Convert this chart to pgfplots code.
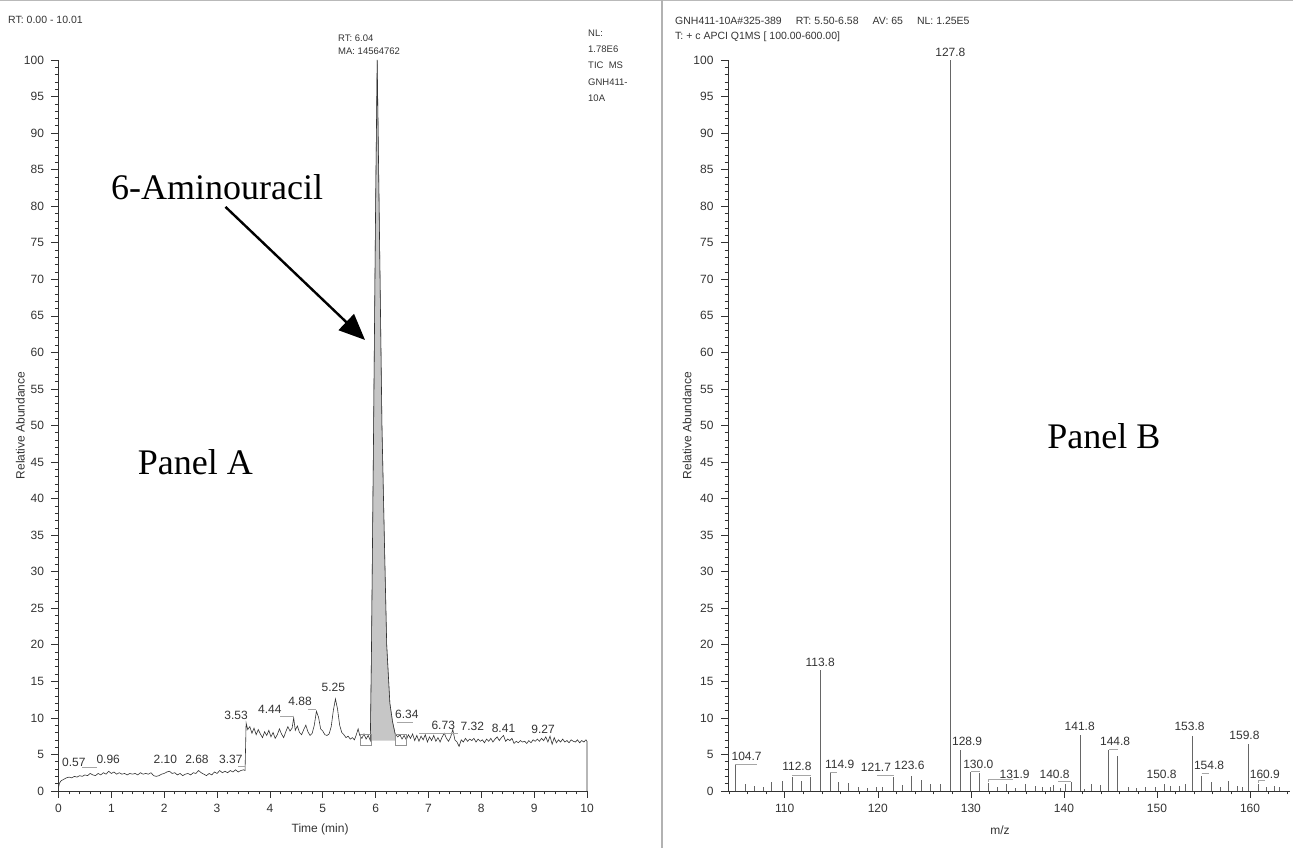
\documentclass[border=0pt]{standalone}
\usepackage{pgfplots}
\pgfplotsset{compat=1.18}
\usepackage{fontspec}
\setmainfont{Liberation Sans}
\newfontfamily\seriffont{Liberation Serif}
\usetikzlibrary{arrows.meta}
\newcommand{\sm}{\fontsize{12bp}{14bp}\selectfont}
\newcommand{\pk}{\fontsize{12bp}{14bp}\selectfont}
\newcommand{\hd}{\fontsize{9.5bp}{11bp}\selectfont}
\newcommand{\hdb}{\fontsize{10.5bp}{12bp}\selectfont}
\definecolor{ink}{HTML}{333333}

\pgfplotsset{
  msstyle/.style={
    scale only axis, clip=false,
    axis lines=left,
    axis line style={-, line width=0.7bp, ink},
    tick align=outside,
    major tick length=7bp, minor tick length=3.5bp,
    every tick/.style={line width=0.6bp, ink},
    ticklabel style={font=\sm, ink},
    yticklabel style={xshift=-4bp},
    xticklabel style={yshift=-3bp},
    /pgf/number format/assume math mode=true,
    label style={font=\sm, ink},
    ymin=0, ymax=100,
    ytick={0,5,...,100}, minor y tick num=4,
  }
}

\begin{document}
\begin{tikzpicture}[x=1bp,y=1bp]
\useasboundingbox (0,0) rectangle (1293,848);
\draw[gray!55, line width=1.2bp] (0,847.4) -- (1293,847.4);
\draw[gray!60, line width=1.2bp] (662,0) -- (662,848);

% header texts panel A
\node[anchor=west, font=\hdb, ink, inner sep=0] at (8,828) {RT: 0.00 - 10.01};
\node[anchor=west, font=\hd, ink, inner sep=0] at (338,810) {RT: 6.04};
\node[anchor=west, font=\hd, ink, inner sep=0] at (338,797) {MA: 14564762};
\node[anchor=west, font=\hd, ink, inner sep=0] at (588,815) {NL:};
\node[anchor=west, font=\hd, ink, inner sep=0] at (588,799) {1.78E6};
\node[anchor=west, font=\hd, ink, inner sep=0] at (588,783) {TIC\ \ MS};
\node[anchor=west, font=\hd, ink, inner sep=0] at (588,766) {GNH411-};
\node[anchor=west, font=\hd, ink, inner sep=0] at (588,750) {10A};
% header texts panel B
\node[anchor=west, font=\hdb, ink, inner sep=0] at (675,827) {GNH411-10A\#325-389\hspace{14bp}RT: 5.50-6.58\hspace{14bp}AV: 65\hspace{14bp}NL: 1.25E5};
\node[anchor=west, font=\hdb, ink, inner sep=0] at (675,811) {T: + c APCI Q1MS [ 100.00-600.00]};

%================ Panel A ================
\begin{axis}[msstyle,
  at={(58.5bp,57bp)}, anchor=south west,
  width=528.5bp, height=731bp,
  xmin=0, xmax=10,
  xtick={0,...,10}, minor x tick num=4,
  xlabel={Time (min)}, ylabel={Relative Abundance},
  xlabel style={at={(axis description cs:0.495,-0.052)}, anchor=center},
  ylabel style={at={(axis description cs:-0.072,0.5)}, anchor=center},
]
% shaded integrated peak
\addplot[fill=gray!45, draw=gray!80, line width=0.5bp] coordinates {
(5.90,6.9) (5.92,18) (5.96,48) (6.00,80) (6.03,100) (6.07,78) (6.12,50)
(6.17,33) (6.21,20) (6.27,12) (6.32,9.5) (6.37,7.8) (6.37,6.9)};
% chromatogram trace
\addplot[ink, line width=0.6bp] coordinates {
(0.00,0.5) (0.02,1.1) (0.05,1.4) (0.10,1.6) (0.15,1.8) (0.20,1.9) (0.25,1.8)
(0.30,2.0) (0.35,1.9) (0.40,2.1) (0.45,2.0) (0.50,2.2) (0.55,2.1) (0.60,2.4)
(0.65,2.2) (0.70,2.1) (0.75,2.4) (0.80,2.2) (0.85,2.5) (0.90,2.3) (0.95,2.7)
(1.00,2.4) (1.05,2.6) (1.10,2.3) (1.15,2.5) (1.20,2.3) (1.25,2.4) (1.30,2.2)
(1.35,2.4) (1.40,2.3) (1.45,2.4) (1.50,2.2) (1.55,2.5) (1.60,2.3) (1.65,2.4)
(1.70,2.3) (1.75,2.5) (1.80,2.1) (1.85,2.0) (1.90,2.1) (1.95,2.3) (2.00,2.4)
(2.05,2.6) (2.10,2.7) (2.15,2.4) (2.20,2.5) (2.25,2.2) (2.30,2.4) (2.35,2.1)
(2.40,2.3) (2.45,2.4) (2.50,2.2) (2.55,2.5) (2.60,2.4) (2.65,2.8) (2.70,2.5)
(2.75,2.3) (2.80,2.1) (2.85,2.4) (2.90,2.2) (2.95,2.6) (3.00,2.4) (3.05,2.8)
(3.10,2.5) (3.15,2.7) (3.20,2.5) (3.25,2.8) (3.30,2.6) (3.35,2.9) (3.40,2.6)
(3.45,2.8) (3.50,2.9) (3.53,2.8) (3.55,9.3) (3.58,8.4) (3.62,8.8) (3.66,7.9)
(3.70,8.6) (3.74,7.7) (3.78,8.4) (3.82,7.8) (3.86,7.3) (3.90,8.1) (3.94,7.6)
(3.98,8.3) (4.02,7.4) (4.06,8.0) (4.10,7.2) (4.14,7.7) (4.18,8.5) (4.22,7.8)
(4.26,7.3) (4.30,8.1) (4.34,8.8) (4.38,8.2) (4.42,8.6) (4.45,10.0) (4.48,8.3)
(4.52,8.9) (4.56,8.0) (4.60,7.7) (4.64,8.4) (4.68,9.0) (4.72,8.1) (4.76,7.6)
(4.80,7.9) (4.84,9.0) (4.88,10.9) (4.92,10.1) (4.96,8.5) (5.00,8.2) (5.04,7.7)
(5.08,7.6) (5.12,7.8) (5.16,8.8) (5.20,11.0) (5.24,12.6) (5.28,11.2) (5.32,9.0)
(5.36,8.0) (5.40,7.7) (5.44,7.3) (5.48,7.5) (5.52,7.1) (5.56,7.3) (5.60,7.0)
(5.63,7.6) (5.67,8.5) (5.70,7.6) (5.74,7.2) (5.78,7.8) (5.82,7.1) (5.86,7.6)
(5.90,6.9) (5.92,18) (5.96,48) (6.00,80) (6.03,100) (6.07,78) (6.12,50)
(6.17,33) (6.21,20) (6.27,12) (6.32,9.5) (6.37,7.8) (6.42,7.4) (6.46,7.7)
(6.50,7.1) (6.54,7.6) (6.58,7.0) (6.62,7.7) (6.66,7.2) (6.70,7.8) (6.74,6.9)
(6.78,7.6) (6.82,6.8) (6.86,7.5) (6.90,7.0) (6.94,7.7) (6.98,6.7) (7.02,7.4)
(7.06,6.9) (7.10,7.6) (7.14,6.8) (7.18,7.3) (7.22,6.7) (7.26,7.4) (7.30,7.9)
(7.34,7.2) (7.38,6.8) (7.42,7.4) (7.46,8.4) (7.50,7.0) (7.54,6.7) (7.58,6.1)
(7.62,7.0) (7.66,6.7) (7.70,7.2) (7.74,6.8) (7.78,7.1) (7.82,6.9) (7.86,7.2)
(7.90,6.7) (7.94,7.1) (7.98,6.8) (8.02,7.0) (8.06,6.6) (8.10,7.1) (8.14,6.8)
(8.18,7.2) (8.22,6.7) (8.26,7.1) (8.30,7.4) (8.34,6.9) (8.38,7.3) (8.42,7.6)
(8.46,6.8) (8.50,7.1) (8.54,6.9) (8.58,7.2) (8.62,6.5) (8.66,6.8) (8.70,6.6)
(8.74,6.9) (8.78,6.7) (8.82,6.8) (8.86,6.5) (8.90,6.9) (8.94,6.6) (8.98,7.0)
(9.02,6.8) (9.06,7.1) (9.10,6.8) (9.14,7.2) (9.18,6.9) (9.22,7.4) (9.26,6.7)
(9.30,7.5) (9.34,6.4) (9.38,7.3) (9.42,6.6) (9.46,7.0) (9.50,6.7) (9.54,7.1)
(9.58,6.7) (9.62,6.9) (9.66,6.6) (9.70,7.0) (9.74,6.8) (9.78,6.7) (9.82,7.0)
(9.86,6.6) (9.90,6.9) (9.94,6.7) (9.98,7.0) (10.00,6.8) (10.00,0)};
% integration boundary boxes
\addplot[only marks, mark=square, mark size=5.4bp, mark options={gray!85, line width=0.6bp}]
  coordinates {(5.81,7.0) (6.47,7.0)};
% peak labels
\foreach \lx/\ly/\lt in {0.29/3.9/0.57, 0.94/4.3/0.96, 2.02/4.3/2.10, 2.62/4.3/2.68,
  3.26/4.3/3.37, 3.36/10.4/3.53, 4.00/11.2/4.44, 4.57/12.3/4.88, 5.20/14.2/5.25,
  6.59/10.5/6.34, 7.28/9.0/6.73, 7.83/8.9/7.32, 8.42/8.6/8.41, 9.17/8.4/9.27}{
  \edef\tmp{\noexpand\node[font=\noexpand\pk, ink, inner sep=0] at (axis cs:\lx,\ly) {\lt};}\tmp
}
% leader lines under labels
\draw[gray!70, line width=0.5bp] (axis cs:0.45,3.2) -- (axis cs:0.72,3.2);
\draw[gray!70, line width=0.5bp] (axis cs:3.40,3.4) -- (axis cs:3.52,3.4);
\draw[gray!70, line width=0.5bp] (axis cs:4.20,10.2) -- (axis cs:4.44,10.2);
\draw[gray!70, line width=0.5bp] (axis cs:4.72,11.2) -- (axis cs:4.88,11.2);
\draw[gray!70, line width=0.5bp] (axis cs:6.40,9.4) -- (axis cs:6.70,9.4);
\draw[gray!70, line width=0.5bp] (axis cs:6.82,7.9) -- (axis cs:7.55,7.9);
% annotations
\node[font=\seriffont\fontsize{36bp}{40bp}\selectfont, inner sep=0] at (axis cs:3.0,82.6) {6-Aminouracil};
\node[font=\seriffont\fontsize{36bp}{40bp}\selectfont, inner sep=0] at (axis cs:2.59,45.0) {Panel A};
\draw[line width=2.4bp, -{Triangle[length=26bp,width=22bp]}] (axis cs:3.16,79.9) -- (axis cs:5.80,61.7);
\end{axis}

%================ Panel B ================
\begin{axis}[msstyle,
  at={(728bp,57bp)}, anchor=south west,
  width=562bp, height=731bp,
  xmin=103.9, xmax=164.3,
  xtick={110,120,...,160}, minor xtick={104,106,...,164},
  xlabel={m/z}, ylabel={Relative Abundance},
  xlabel style={at={(axis description cs:0.484,-0.054)}, anchor=center},
  ylabel style={at={(axis description cs:-0.073,0.5)}, anchor=center},
]
\addplot[ycomb, black!60, line width=0.9bp] coordinates {
(104.7,3.5) (105.8,1.0) (106.7,0.7) (107.7,0.5) (108.6,1.2) (109.8,1.3)
(110.8,1.9) (111.8,1.3) (112.8,1.9) (113.8,16.6) (114.9,2.4) (115.8,1.2)
(116.8,1.1) (117.9,0.6) (118.9,0.4) (119.8,0.6) (120.5,0.5) (121.7,1.9)
(122.6,0.8) (123.6,2.1) (124.7,1.5) (125.7,1.0) (126.7,0.9) (127.8,100)
(128.9,5.6) (130.0,2.6) (130.9,2.4) (131.9,1.1) (132.9,0.6) (133.8,0.9)
(134.8,0.4) (135.9,0.9) (136.9,0.7) (137.7,0.6) (138.6,0.5) (138.9,0.8)
(139.6,0.4) (140.2,0.9) (140.8,1.2) (141.8,7.6) (142.2,0.3) (143.0,1.0)
(143.9,0.8) (144.8,5.6) (145.8,4.8) (146.9,0.6) (147.8,0.4) (148.8,0.6)
(149.8,0.6) (150.8,1.0) (151.4,0.7) (152.4,0.7) (153.1,0.9) (153.8,7.5)
(154.8,2.1) (155.9,1.2) (156.8,0.6) (157.7,1.4) (158.6,0.7) (159.2,0.5)
(159.8,6.4) (160.9,1.0) (161.8,0.6) (162.6,0.7) (163.2,0.6)};
\node[font=\pk, ink, anchor=south, inner sep=1.5bp] at (axis cs:127.8,100.2) {127.8};
\node[font=\pk, ink, anchor=south, inner sep=1.5bp] at (axis cs:113.8,16.8) {113.8};
\foreach \lx/\ly/\lt in {105.9/4.7/104.7, 111.3/3.4/112.8, 115.9/3.7/114.9,
  119.8/3.3/121.7, 123.4/3.5/123.6, 129.6/6.8/128.9, 130.8/3.7/130.0,
  134.7/2.3/131.9, 139.0/2.3/140.8, 141.7/8.8/141.8, 145.5/6.8/144.8,
  150.5/2.3/150.8, 153.5/8.8/153.8, 155.6/3.5/154.8, 159.4/7.6/159.8,
  161.6/2.3/160.9}{
  \edef\tmp{\noexpand\node[font=\noexpand\pk, ink, inner sep=0] at (axis cs:\lx,\ly) {\lt};}\tmp
}
% leader brackets
\draw[gray!70, line width=0.5bp] (axis cs:104.7,3.6) -- (axis cs:104.7,3.7) -- (axis cs:107.0,3.7);
\draw[gray!70, line width=0.5bp] (axis cs:110.8,2.1) -- (axis cs:112.8,2.1);
\draw[gray!70, line width=0.5bp] (axis cs:114.9,2.5) -- (axis cs:115.6,2.5);
\draw[gray!70, line width=0.5bp] (axis cs:119.9,2.1) -- (axis cs:121.7,2.1);
\draw[gray!70, line width=0.5bp] (axis cs:130.0,2.7) -- (axis cs:131.0,2.7);
\draw[gray!70, line width=0.5bp] (axis cs:131.9,1.2) -- (axis cs:131.9,1.6) -- (axis cs:134.5,1.6);
\draw[gray!70, line width=0.5bp] (axis cs:139.4,1.4) -- (axis cs:140.8,1.4);
\draw[gray!70, line width=0.5bp] (axis cs:144.8,5.7) -- (axis cs:145.8,5.7);
\draw[gray!70, line width=0.5bp] (axis cs:154.8,2.4) -- (axis cs:155.6,2.4);
\draw[gray!70, line width=0.5bp] (axis cs:160.9,1.1) -- (axis cs:160.9,1.5) -- (axis cs:161.6,1.5);
\node[font=\seriffont\fontsize{36bp}{40bp}\selectfont, inner sep=0] at (axis cs:144.3,48.6) {Panel B};
\end{axis}
\end{tikzpicture}
\end{document}
